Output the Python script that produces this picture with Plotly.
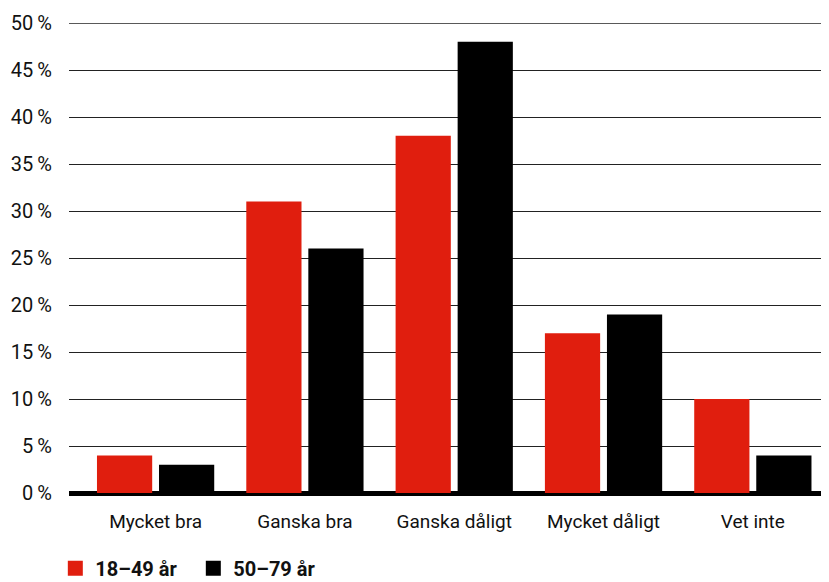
import plotly.graph_objects as go

kategorier = ["Mycket bra", "Ganska bra", "Ganska dåligt", "Mycket dåligt", "Vet inte"]
unga = [4, 31, 38, 17, 10]
aldre = [3, 26, 48, 19, 4]
y_ticks = [0, 5, 10, 15, 20, 25, 30, 35, 40, 45, 50]
y_labels = [f"{v}\u2009%" for v in y_ticks]

ROD = "#e01e0e"
SVART = "#000000"

fig = go.Figure()
fig.add_trace(go.Bar(x=kategorier, y=unga, name="18–49 år", marker_color=ROD,
                     marker_line_width=0, showlegend=False))
fig.add_trace(go.Bar(x=kategorier, y=aldre, name="50–79 år", marker_color=SVART,
                     marker_line_width=0, showlegend=False))
# legend entries with bigger squares
for namn, farg in [("18–49 år", ROD), ("50–79 år", SVART)]:
    fig.add_trace(go.Scatter(x=[None], y=[None], mode="markers", name=namn,
                             marker=dict(symbol="square", size=15, color=farg)))

# top gridline at 50 (plotly skips grid at the range edge)
fig.add_shape(type="line", xref="paper", x0=0, x1=1, yref="y", y0=50, y1=50,
              line=dict(color="#222", width=1.5))

# the page body has an 8px margin; the figure is a bit taller than the window
# so the legend fits without pushing the margins
fig.update_layout(
    width=829, height=600,
    margin=dict(l=61, r=8, t=15, b=115),
    paper_bgcolor="white", plot_bgcolor="white",
    barmode="group", bargap=0.169, bargroupgap=0.11,
    font=dict(family="Roboto", size=17, color="#111"),
    showlegend=True,
    legend=dict(orientation="h", x=-0.018, xanchor="left", y=-0.16, yanchor="middle",
                font=dict(size=20, family="Roboto", weight="bold"),
                itemwidth=30, entrywidth=93, tracegroupgap=0, bgcolor="rgba(0,0,0,0)"),
)
fig.update_xaxes(range=[-0.58, 4.51], showgrid=False, showline=False, automargin=False,
                 ticks="", ticklabelstandoff=15, tickfont=dict(size=19))
fig.update_yaxes(range=[0, 50], tickvals=y_ticks, ticktext=y_labels, automargin=False,
                 showgrid=True, gridcolor="#222", gridwidth=1.3,
                 minor=dict(tickvals=[5, 15, 25, 35, 45], showgrid=True, gridcolor="#aaa", gridwidth=1),
                 zeroline=True, zerolinecolor="black", zerolinewidth=5,
                 ticklabelstandoff=16, showline=False, tickfont=dict(size=20))

fig.write_html("out.html")
